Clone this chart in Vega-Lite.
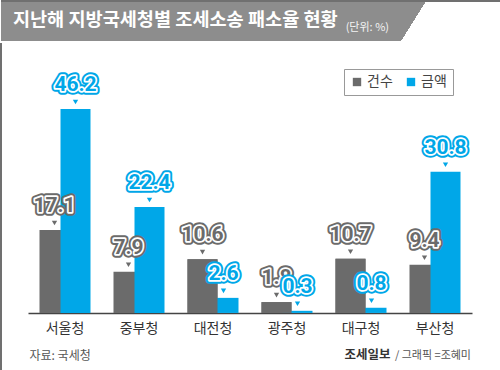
{
  "$schema": "https://vega.github.io/schema/vega-lite/v6.json",
  "padding": 0,
  "spacing": 0,
  "background": "white",
  "config": {"font": "Noto Sans CJK KR"},
  "vconcat": [
    {
      "width": 500,
      "height": 40,
      "view": {
        "fill": {
          "gradient": "linear",
          "x1": 0, "y1": 0, "x2": 1, "y2": 0.05,
          "stops": [
            {"offset": 0, "color": "#8d8d8d"},
            {"offset": 0.848, "color": "#8d8d8d"},
            {"offset": 0.8481, "color": "#ffffff"},
            {"offset": 1, "color": "#ffffff"}
          ]
        },
        "stroke": "#707070",
        "strokeWidth": 2,
        "strokeDash": [540, 540]
      },
      "title": {
        "text": "지난해 지방국세청별 조세소송 패소율 현황ㅤㅤㅤ",
        "subtitle": "(단위: %)",
        "orient": "top",
        "anchor": "end",
        "frame": "group",
        "dx": -112,
        "offset": -47,
        "baseline": "alphabetic",
        "color": "#ffffff",
        "fontSize": 18.6,
        "fontWeight": "bold",
        "font": "Noto Sans CJK KR",
        "subtitleColor": "#f4f4f4",
        "subtitleFontSize": 11,
        "subtitleFont": "Noto Sans CJK KR",
        "subtitlePadding": -14
      },
      "data": {"values": []},
      "mark": "text"
    },
    {
      "width": 500,
      "height": 330,
      "view": {"stroke": "#707070", "strokeWidth": 2, "strokeDash": [0, 500, 1160, 0]},
      "data": {
        "values": [
          {"region": "서울청", "count": 17.1, "amount": 46.2},
          {"region": "중부청", "count": 7.9, "amount": 22.4},
          {"region": "대전청", "count": 10.6, "amount": 2.6},
          {"region": "광주청", "count": 1.8, "amount": 0.3},
          {"region": "대구청", "count": 10.7, "amount": 0.8},
          {"region": "부산청", "count": 9.4, "amount": 30.8}
        ]
      },
      "title": {
        "text": "조세일보ㅤㅤㅤㅤㅤㅤㅤ",
        "subtitle": "/ 그래픽 =조혜미",
        "orient": "bottom",
        "anchor": "end",
        "frame": "group",
        "dx": -30,
        "offset": -14,
        "baseline": "alphabetic",
        "color": "#333333",
        "fontSize": 12.5,
        "fontWeight": "bold",
        "font": "Noto Sans CJK KR",
        "subtitleColor": "#555555",
        "subtitleFontSize": 11,
        "subtitleFont": "Noto Sans CJK KR",
        "subtitlePadding": -13
      },
      "encoding": {
        "x": {
          "field": "region",
          "type": "nominal",
          "sort": null,
          "scale": {"range": [27, 471], "paddingInner": 0, "paddingOuter": 0},
          "axis": {
            "orient": "bottom",
            "offset": -60,
            "title": "자료: 국세청",
            "titleAnchor": "start",
            "titleAlign": "left",
            "titleX": 28,
            "titleY": 46,
            "titleBaseline": "alphabetic",
            "titleFontSize": 12,
            "titleFontWeight": "normal",
            "titleColor": "#555555",
            "labelFontSize": 14,
            "labelColor": "#333333",
            "labelPadding": 8,
            "labelAngle": 0,
            "ticks": false,
            "domainColor": "#444444",
            "domainWidth": 1.5,
            "grid": false
          }
        }
      },
      "layer": [
        {
          "mark": {"type": "bar", "width": 30, "xOffset": -10.5},
          "encoding": {
            "y": {"field": "count", "type": "quantitative", "axis": null,
                  "scale": {"type": "pow", "exponent": 0.905, "domain": [-11.97, 63.0], "nice": false, "zero": false}},
            "y2": {"datum": 0},
            "color": {"datum": "건수", "type": "nominal",
                      "scale": {"domain": ["건수", "금액"], "range": ["#6b6b6b", "#00a7e8"]},
                      "legend": {
                        "orient": "none", "legendX": 343, "legendY": 68,
                        "direction": "horizontal", "title": null,
                        "symbolType": "square", "symbolSize": 70, "symbolStrokeWidth": 0,
                        "labelFontSize": 14, "labelColor": "#444444", "labelFont": "Noto Sans CJK KR",
                        "strokeColor": "#999999", "fillColor": "#ffffff", "padding": 6,
                        "columnPadding": 11, "labelOffset": 3
                      }}
          }
        },
        {
          "mark": {"type": "bar", "width": 30, "xOffset": 10.5},
          "encoding": {
            "y": {"field": "amount", "type": "quantitative"},
            "y2": {"datum": 0},
            "color": {"datum": "금액", "type": "nominal"}
          }
        },
        {
          "transform": [{"filter": "datum.count > datum.amount"}],
          "mark": {"type": "bar", "width": 30, "xOffset": -10.5},
          "encoding": {
            "y": {"field": "count", "type": "quantitative"},
            "y2": {"datum": 0},
            "color": {"datum": "건수", "type": "nominal"}
          }
        },
        {
          "mark": {"type": "point", "shape": "triangle-down", "filled": true, "size": 28, "color": "#6b6b6b", "xOffset": -10.5, "yOffset": -7, "opacity": 1},
          "encoding": {"y": {"field": "count", "type": "quantitative"}}
        },
        {
          "mark": {"type": "text", "fontSize": 21, "fontWeight": "bold", "font": "'Liberation Sans Narrow', Roboto", "baseline": "middle", "dy": -24, "xOffset": -10.5, "color": "#6b6b6b", "stroke": "#6b6b6b", "strokeWidth": 7.5, "strokeJoin": "round"},
          "encoding": {"y": {"field": "count", "type": "quantitative"}, "text": {"field": "count", "type": "quantitative", "format": ".1f"}}
        },
        {
          "mark": {"type": "text", "fontSize": 21, "fontWeight": "bold", "font": "'Liberation Sans Narrow', Roboto", "baseline": "middle", "dy": -24, "xOffset": -10.5, "color": "#6b6b6b", "stroke": "#ffffff", "strokeWidth": 3.5, "strokeJoin": "round"},
          "encoding": {"y": {"field": "count", "type": "quantitative"}, "text": {"field": "count", "type": "quantitative", "format": ".1f"}}
        },
        {
          "mark": {"type": "text", "fontSize": 21, "fontWeight": "bold", "font": "'Liberation Sans Narrow', Roboto", "baseline": "middle", "dy": -24, "xOffset": -10.5, "color": "#6b6b6b"},
          "encoding": {"y": {"field": "count", "type": "quantitative"}, "text": {"field": "count", "type": "quantitative", "format": ".1f"}}
        },
        {
          "mark": {"type": "point", "shape": "triangle-down", "filled": true, "size": 28, "color": "#00a7e8", "xOffset": 10.5, "yOffset": -7, "opacity": 1},
          "encoding": {"y": {"field": "amount", "type": "quantitative"}}
        },
        {
          "mark": {"type": "text", "fontSize": 21, "fontWeight": "bold", "font": "'Liberation Sans Narrow', Roboto", "baseline": "middle", "dy": -24, "xOffset": 10.5, "color": "#00a7e8", "stroke": "#00a7e8", "strokeWidth": 7.5, "strokeJoin": "round"},
          "encoding": {"y": {"field": "amount", "type": "quantitative"}, "text": {"field": "amount", "type": "quantitative", "format": ".1f"}}
        },
        {
          "mark": {"type": "text", "fontSize": 21, "fontWeight": "bold", "font": "'Liberation Sans Narrow', Roboto", "baseline": "middle", "dy": -24, "xOffset": 10.5, "color": "#00a7e8", "stroke": "#ffffff", "strokeWidth": 3.5, "strokeJoin": "round"},
          "encoding": {"y": {"field": "amount", "type": "quantitative"}, "text": {"field": "amount", "type": "quantitative", "format": ".1f"}}
        },
        {
          "mark": {"type": "text", "fontSize": 21, "fontWeight": "bold", "font": "'Liberation Sans Narrow', Roboto", "baseline": "middle", "dy": -24, "xOffset": 10.5, "color": "#00a7e8"},
          "encoding": {"y": {"field": "amount", "type": "quantitative"}, "text": {"field": "amount", "type": "quantitative", "format": ".1f"}}
        }
      ]
    }
  ]
}
